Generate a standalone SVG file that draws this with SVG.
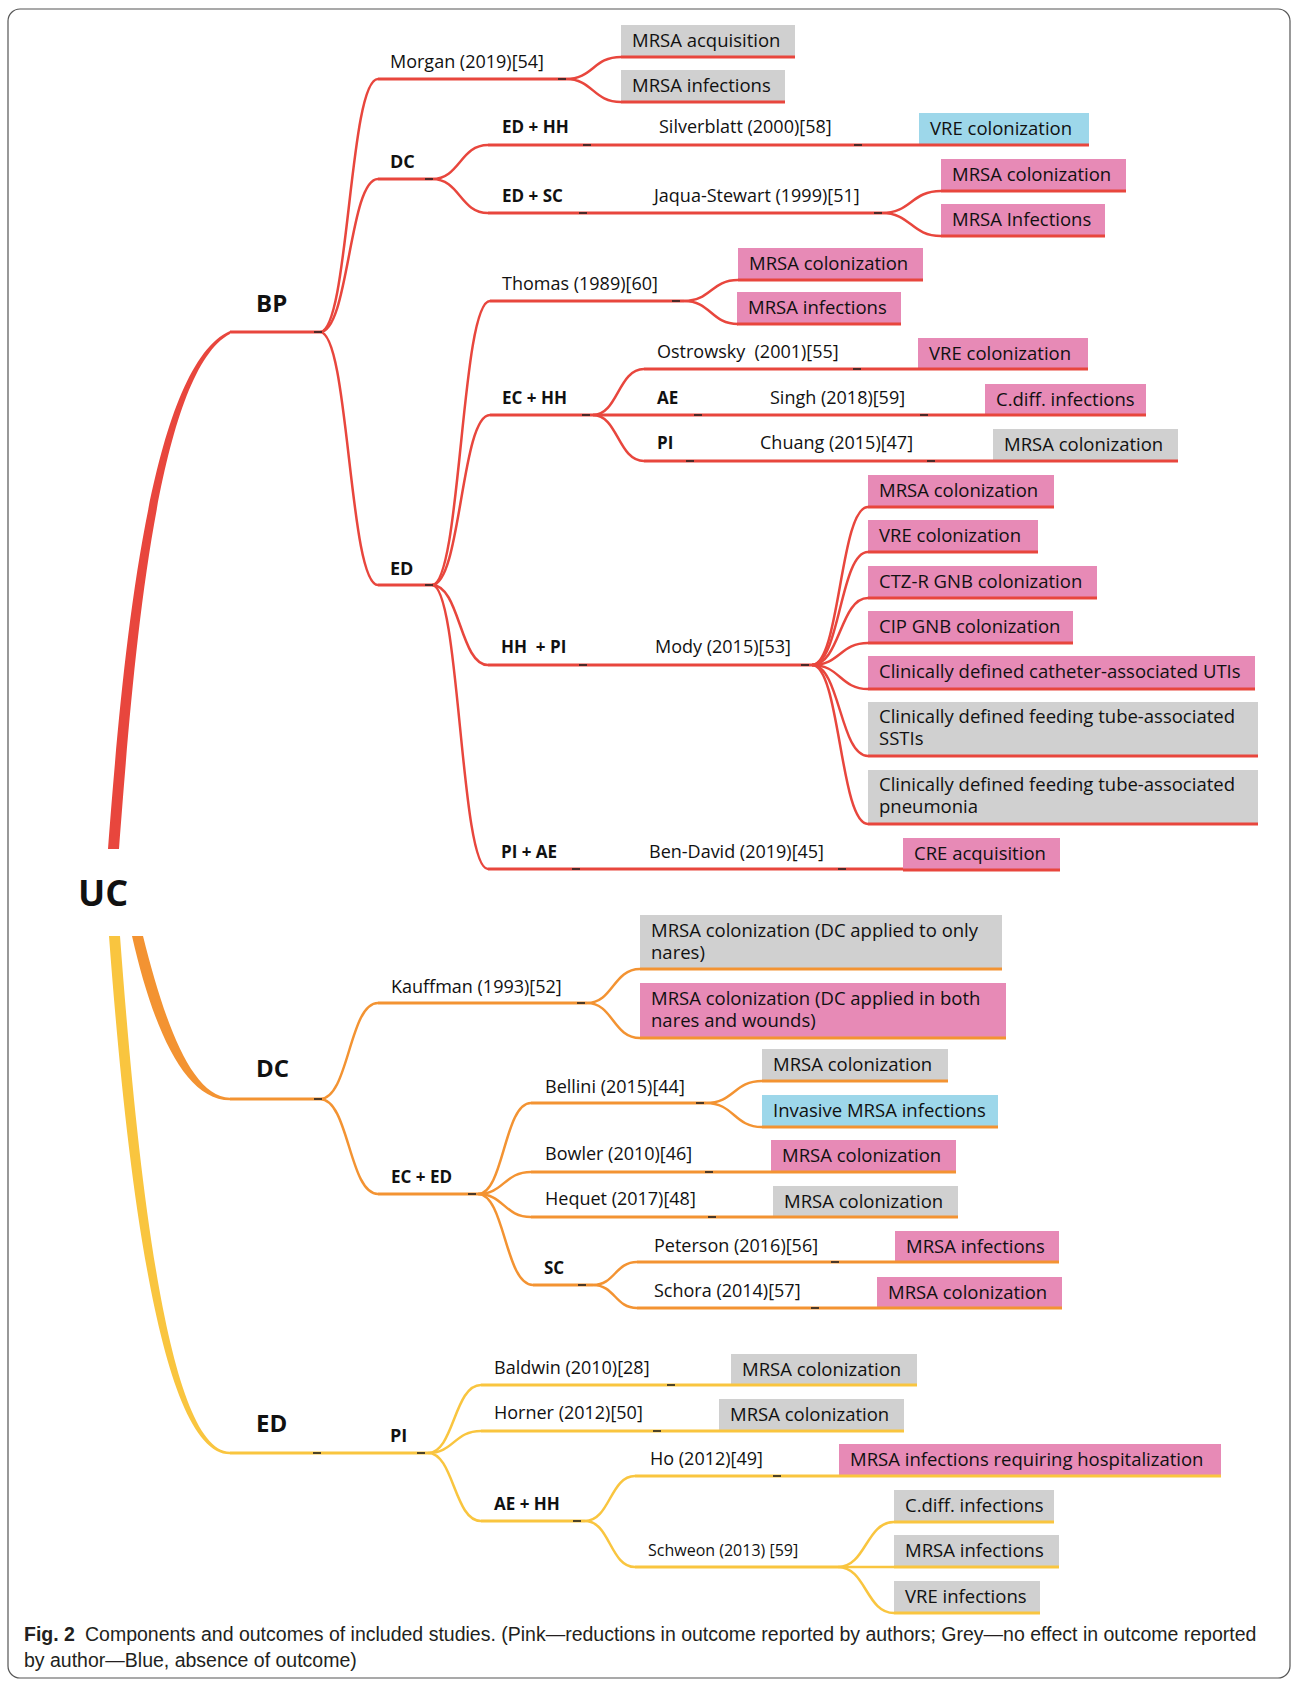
<svg xmlns="http://www.w3.org/2000/svg" width="1292" height="1681" viewBox="0 0 1292 1681">
<style>
text{font-family:"Open Sans","Noto Sans",sans-serif;fill:#111}
.t{font-size:18px}
.bt{font-size:18.5px}
.b{font-size:17px;font-weight:bold}
.h{font-size:24px;font-weight:bold}
.s{font-size:16px}
.cr{fill:none;stroke:#E8463D;stroke-width:2.5}
.co{fill:none;stroke:#F39332;stroke-width:2.5}
.cy{fill:none;stroke:#F9C53F;stroke-width:2.5}
.ur{stroke:#E8463D;stroke-width:3}
.uo{stroke:#F39332;stroke-width:3}
.uy{stroke:#F9C53F;stroke-width:3}
.pk{fill:#E78AB6}
.gr{fill:#D0D0D0}
.bl{fill:#9DD7EA}
.tk{stroke:#222;stroke-width:1.6}
.cap{font-family:"Liberation Sans","Open Sans",sans-serif;font-size:19.5px;fill:#231F20}
</style>
<rect x="8" y="9" width="1282" height="1669" rx="12" fill="#fff" stroke="#555" stroke-width="1.2"/>

<g id="connectors">
<path fill="#E8463D" d="M108 849 C121 680 146 368 230 331 L230 334 C154 374 132 680 119 849 Z"/>
<path fill="#F39332" d="M132 936 C152 1024 183 1100.3 230 1100.3 L230 1097.8 C190 1097 163 1016 143 936 Z"/>
<path fill="#F9C53F" d="M109 936 C125 1150 157 1454.3 230 1454.3 L230 1451.8 C165 1451 136 1150 120 936 Z"/>
<path class="cr" d="M320 332 C349 332 349 79 378 79"/>
<path class="cr" d="M320 332 C349 332 349 179 378 179"/>
<path class="cr" d="M320 332 C349 332 349 585 378 585"/>
<path class="cr" d="M432 179 C460 179 460 145 488 145"/>
<path class="cr" d="M432 179 C460 179 460 213 488 213"/>
<path class="cr" d="M432 585 C461 585 461 301 490 301"/>
<path class="cr" d="M432 585 C461 585 461 415 490 415"/>
<path class="cr" d="M432 585 C460 585 460 665 488 665"/>
<path class="cr" d="M432 585 C460 585 460 869 488 869"/>
<path class="cr" d="M566 79 C593 79 593 57 621 57"/>
<path class="cr" d="M566 79 C593 79 593 102 621 102"/>
<path class="cr" d="M882 213 C911 213 911 191 941 191"/>
<path class="cr" d="M882 213 C911 213 911 236 941 236"/>
<path class="cr" d="M684 301 C711 301 711 280 738 280"/>
<path class="cr" d="M684 301 C711 301 711 324 738 324"/>
<path class="cr" d="M593 415 C618 415 618 369 644 369"/>
<path class="cr" d="M593 415 C618 415 618 461 644 461"/>
<path class="cr" d="M812 665 C840 665 840 507 868 507"/>
<path class="cr" d="M812 665 C840 665 840 552 868 552"/>
<path class="cr" d="M812 665 C840 665 840 598 868 598"/>
<path class="cr" d="M812 665 C840 665 840 643 868 643"/>
<path class="cr" d="M812 665 C840 665 840 689 868 689"/>
<path class="cr" d="M812 665 C840 665 840 756 868 756"/>
<path class="cr" d="M812 665 C840 665 840 824 868 824"/>
<path class="co" d="M320 1099 C349 1099 349 1003 378 1003"/>
<path class="co" d="M320 1099 C349 1099 349 1194 378 1194"/>
<path class="co" d="M587 1003 C613 1003 613 969 640 969"/>
<path class="co" d="M587 1003 C613 1003 613 1038 640 1038"/>
<path class="co" d="M478 1194 C504 1194 504 1103 531 1103"/>
<path class="co" d="M478 1194 C504 1194 504 1172 531 1172"/>
<path class="co" d="M478 1194 C504 1194 504 1217 531 1217"/>
<path class="co" d="M478 1194 C505 1194 505 1285 533 1285"/>
<path class="co" d="M706 1103 C734 1103 734 1081 762 1081"/>
<path class="co" d="M706 1103 C734 1103 734 1127 762 1127"/>
<path class="co" d="M593 1285 C615 1285 615 1262 637 1262"/>
<path class="co" d="M593 1285 C615 1285 615 1308 637 1308"/>
<path class="cy" d="M428 1453 C454 1453 454 1385 481 1385"/>
<path class="cy" d="M428 1453 C454 1453 454 1431 481 1431"/>
<path class="cy" d="M428 1453 C454 1453 454 1521 481 1521"/>
<path class="cy" d="M585 1521 C610 1521 610 1476 635 1476"/>
<path class="cy" d="M585 1521 C610 1521 610 1567 635 1567"/>
<path class="cy" d="M838 1567 C866 1567 866 1522 894 1522"/>
<path class="cy" d="M838 1567 L894 1567"/>
<path class="cy" d="M838 1567 C866 1567 866 1613 894 1613"/>
</g>

<g id="uc"><text class="h" x="78" y="906" style="font-size:36px">UC</text></g>

<!-- RED: BP -->
<g id="bp"><line class="ur" x1="230" y1="332" x2="320" y2="332"/><text class="h" x="256" y="312">BP</text><line class="tk" x1="314" y1="332" x2="322" y2="332"/></g>
<g id="morgan"><line class="ur" x1="378" y1="79" x2="566" y2="79"/><text class="t" x="390" y="68">Morgan (2019)[54]</text><line class="tk" x1="558" y1="79" x2="566" y2="79"/></g>
<g id="o-morgan-1"><rect class="gr" x="621" y="25" width="174" height="32"/><line class="ur" x1="621" y1="57" x2="795" y2="57"/><text class="bt" x="632" y="47">MRSA acquisition</text></g>
<g id="o-morgan-2"><rect class="gr" x="621" y="70" width="164" height="32"/><line class="ur" x1="621" y1="102" x2="785" y2="102"/><text class="bt" x="632" y="92">MRSA infections</text></g>
<g id="dc-red"><line class="ur" x1="378" y1="179" x2="432" y2="179"/><text class="b" x="390" y="168" style="font-size:18px">DC</text><line class="tk" x1="425" y1="179" x2="433" y2="179"/></g>
<g id="ed-hh"><line class="ur" x1="488" y1="145" x2="919" y2="145"/><text class="b" x="502" y="133">ED + HH</text><text class="t" x="659" y="133">Silverblatt (2000)[58]</text><line class="tk" x1="583" y1="145" x2="591" y2="145"/><line class="tk" x1="854" y1="145" x2="862" y2="145"/></g>
<g id="o-silverblatt"><rect class="bl" x="919" y="113" width="170" height="32"/><line class="ur" x1="919" y1="145" x2="1089" y2="145"/><text class="bt" x="930" y="135">VRE colonization</text></g>
<g id="ed-sc"><line class="ur" x1="488" y1="213" x2="882" y2="213"/><text class="b" x="502" y="202">ED + SC</text><text class="t" x="654" y="202">Jaqua-Stewart (1999)[51]</text><line class="tk" x1="579" y1="213" x2="587" y2="213"/><line class="tk" x1="874" y1="213" x2="882" y2="213"/></g>
<g id="o-jaqua-1"><rect class="pk" x="941" y="159" width="185" height="32"/><line class="ur" x1="941" y1="191" x2="1126" y2="191"/><text class="bt" x="952" y="181">MRSA colonization</text></g>
<g id="o-jaqua-2"><rect class="pk" x="941" y="204" width="164" height="32"/><line class="ur" x1="941" y1="236" x2="1105" y2="236"/><text class="bt" x="952" y="226">MRSA Infections</text></g>
<g id="ed-red"><line class="ur" x1="378" y1="585" x2="432" y2="585"/><text class="b" x="390" y="575" style="font-size:18px">ED</text><line class="tk" x1="425" y1="585" x2="433" y2="585"/></g>
<g id="thomas"><line class="ur" x1="490" y1="301" x2="684" y2="301"/><text class="t" x="502" y="290">Thomas (1989)[60]</text><line class="tk" x1="672" y1="301" x2="680" y2="301"/></g>
<g id="o-thomas-1"><rect class="pk" x="738" y="248" width="185" height="32"/><line class="ur" x1="738" y1="280" x2="923" y2="280"/><text class="bt" x="749" y="270">MRSA colonization</text></g>
<g id="o-thomas-2"><rect class="pk" x="737" y="292" width="164" height="32"/><line class="ur" x1="737" y1="324" x2="901" y2="324"/><text class="bt" x="748" y="314">MRSA infections</text></g>
<g id="ec-hh"><line class="ur" x1="490" y1="415" x2="593" y2="415"/><text class="b" x="502" y="404">EC + HH</text><line class="tk" x1="582" y1="415" x2="590" y2="415"/></g>
<g id="ostrowsky"><line class="ur" x1="644" y1="369" x2="918" y2="369"/><text class="t" x="657" y="358" xml:space="preserve">Ostrowsky  (2001)[55]</text><line class="tk" x1="853" y1="369" x2="861" y2="369"/></g>
<g id="o-ostrowsky"><rect class="pk" x="918" y="338" width="170" height="31"/><line class="ur" x1="918" y1="369" x2="1088" y2="369"/><text class="bt" x="929" y="360">VRE colonization</text></g>
<g id="ae-singh"><line class="ur" x1="593" y1="415" x2="985" y2="415"/><text class="b" x="657" y="404">AE</text><text class="t" x="770" y="404">Singh (2018)[59]</text><line class="tk" x1="694" y1="415" x2="702" y2="415"/><line class="tk" x1="920" y1="415" x2="928" y2="415"/></g>
<g id="o-singh"><rect class="pk" x="985" y="384" width="161" height="31"/><line class="ur" x1="985" y1="415" x2="1146" y2="415"/><text class="bt" x="996" y="406">C.diff. infections</text></g>
<g id="pi-chuang"><line class="ur" x1="644" y1="461" x2="993" y2="461"/><text class="b" x="657" y="449">PI</text><text class="t" x="760" y="449">Chuang (2015)[47]</text><line class="tk" x1="686" y1="461" x2="694" y2="461"/><line class="tk" x1="927" y1="461" x2="935" y2="461"/></g>
<g id="o-chuang"><rect class="gr" x="993" y="429" width="185" height="32"/><line class="ur" x1="993" y1="461" x2="1178" y2="461"/><text class="bt" x="1004" y="451">MRSA colonization</text></g>
<g id="hh-pi"><line class="ur" x1="488" y1="665" x2="812" y2="665"/><text class="b" x="501" y="653" xml:space="preserve">HH  + PI</text><text class="t" x="655" y="653">Mody (2015)[53]</text><line class="tk" x1="579" y1="665" x2="587" y2="665"/><line class="tk" x1="801" y1="665" x2="809" y2="665"/></g>
<g id="o-mody-1"><rect class="pk" x="868" y="475" width="186" height="32"/><line class="ur" x1="868" y1="507" x2="1054" y2="507"/><text class="bt" x="879" y="497">MRSA colonization</text></g>
<g id="o-mody-2"><rect class="pk" x="868" y="520" width="170" height="32"/><line class="ur" x1="868" y1="552" x2="1038" y2="552"/><text class="bt" x="879" y="542">VRE colonization</text></g>
<g id="o-mody-3"><rect class="pk" x="868" y="566" width="229" height="32"/><line class="ur" x1="868" y1="598" x2="1097" y2="598"/><text class="bt" x="879" y="588">CTZ-R GNB colonization</text></g>
<g id="o-mody-4"><rect class="pk" x="868" y="611" width="205" height="32"/><line class="ur" x1="868" y1="643" x2="1073" y2="643"/><text class="bt" x="879" y="633">CIP GNB colonization</text></g>
<g id="o-mody-5"><rect class="pk" x="868" y="656" width="387" height="33"/><line class="ur" x1="868" y1="689" x2="1255" y2="689"/><text class="bt" x="879" y="678">Clinically defined catheter-associated UTIs</text></g>
<g id="o-mody-6"><rect class="gr" x="868" y="702" width="390" height="54"/><line class="ur" x1="868" y1="756" x2="1258" y2="756"/><text class="bt" x="879" y="723">Clinically defined feeding tube-associated</text><text class="bt" x="879" y="745">SSTIs</text></g>
<g id="o-mody-7"><rect class="gr" x="868" y="770" width="390" height="54"/><line class="ur" x1="868" y1="824" x2="1258" y2="824"/><text class="bt" x="879" y="791">Clinically defined feeding tube-associated</text><text class="bt" x="879" y="813">pneumonia</text></g>
<g id="pi-ae"><line class="ur" x1="488" y1="869" x2="903" y2="869"/><text class="b" x="501" y="858">PI + AE</text><text class="t" x="649" y="858">Ben-David (2019)[45]</text><line class="tk" x1="572" y1="869" x2="580" y2="869"/><line class="tk" x1="838" y1="869" x2="846" y2="869"/></g>
<g id="o-bendavid"><rect class="pk" x="903" y="838" width="157" height="32"/><line class="ur" x1="903" y1="870" x2="1060" y2="870"/><text class="bt" x="914" y="860">CRE acquisition</text></g>

<!-- ORANGE: DC -->
<g id="dc"><line class="uo" x1="230" y1="1099" x2="320" y2="1099"/><text class="h" x="256" y="1077">DC</text><line class="tk" x1="314" y1="1099" x2="322" y2="1099"/></g>
<g id="kauffman"><line class="uo" x1="378" y1="1003" x2="587" y2="1003"/><text class="t" x="391" y="993">Kauffman (1993)[52]</text><line class="tk" x1="577" y1="1003" x2="585" y2="1003"/></g>
<g id="o-kauffman-1"><rect class="gr" x="640" y="915" width="362" height="54"/><line class="uo" x1="640" y1="969" x2="1002" y2="969"/><text class="bt" x="651" y="937">MRSA colonization (DC applied to only</text><text class="bt" x="651" y="959">nares)</text></g>
<g id="o-kauffman-2"><rect class="pk" x="640" y="983" width="366" height="55"/><line class="uo" x1="640" y1="1038" x2="1006" y2="1038"/><text class="bt" x="651" y="1005">MRSA colonization (DC applied in both</text><text class="bt" x="651" y="1027">nares and wounds)</text></g>
<g id="ec-ed"><line class="uo" x1="378" y1="1194" x2="478" y2="1194"/><text class="b" x="391" y="1183">EC + ED</text><line class="tk" x1="468" y1="1194" x2="476" y2="1194"/></g>
<g id="bellini"><line class="uo" x1="531" y1="1103" x2="706" y2="1103"/><text class="t" x="545" y="1093">Bellini (2015)[44]</text><line class="tk" x1="696" y1="1103" x2="704" y2="1103"/></g>
<g id="o-bellini-1"><rect class="gr" x="762" y="1049" width="186" height="32"/><line class="uo" x1="762" y1="1081" x2="948" y2="1081"/><text class="bt" x="773" y="1071">MRSA colonization</text></g>
<g id="o-bellini-2"><rect class="bl" x="762" y="1095" width="236" height="32"/><line class="uo" x1="762" y1="1127" x2="998" y2="1127"/><text class="bt" x="773" y="1117">Invasive MRSA infections</text></g>
<g id="bowler"><line class="uo" x1="531" y1="1172" x2="771" y2="1172"/><text class="t" x="545" y="1160">Bowler (2010)[46]</text><line class="tk" x1="705" y1="1172" x2="713" y2="1172"/></g>
<g id="o-bowler"><rect class="pk" x="771" y="1140" width="185" height="32"/><line class="uo" x1="771" y1="1172" x2="956" y2="1172"/><text class="bt" x="782" y="1162">MRSA colonization</text></g>
<g id="hequet"><line class="uo" x1="531" y1="1217" x2="773" y2="1217"/><text class="t" x="545" y="1205">Hequet (2017)[48]</text><line class="tk" x1="708" y1="1217" x2="716" y2="1217"/></g>
<g id="o-hequet"><rect class="gr" x="773" y="1186" width="185" height="31"/><line class="uo" x1="773" y1="1217" x2="958" y2="1217"/><text class="bt" x="784" y="1208">MRSA colonization</text></g>
<g id="sc"><line class="uo" x1="533" y1="1285" x2="593" y2="1285"/><text class="b" x="544" y="1274">SC</text><line class="tk" x1="578" y1="1285" x2="586" y2="1285"/></g>
<g id="peterson"><line class="uo" x1="637" y1="1262" x2="895" y2="1262"/><text class="t" x="654" y="1252">Peterson (2016)[56]</text><line class="tk" x1="831" y1="1262" x2="839" y2="1262"/></g>
<g id="o-peterson"><rect class="pk" x="895" y="1231" width="164" height="31"/><line class="uo" x1="895" y1="1262" x2="1059" y2="1262"/><text class="bt" x="906" y="1253">MRSA infections</text></g>
<g id="schora"><line class="uo" x1="637" y1="1308" x2="877" y2="1308"/><text class="t" x="654" y="1297">Schora (2014)[57]</text><line class="tk" x1="811" y1="1308" x2="819" y2="1308"/></g>
<g id="o-schora"><rect class="pk" x="877" y="1277" width="185" height="31"/><line class="uo" x1="877" y1="1308" x2="1062" y2="1308"/><text class="bt" x="888" y="1299">MRSA colonization</text></g>

<!-- YELLOW: ED -->
<g id="ed"><line class="uy" x1="230" y1="1453" x2="378" y2="1453"/><text class="h" x="256" y="1432">ED</text><line class="tk" x1="313" y1="1453" x2="321" y2="1453"/></g>
<g id="pi"><line class="uy" x1="378" y1="1453" x2="428" y2="1453"/><text class="b" x="390" y="1442" style="font-size:18px">PI</text><line class="tk" x1="417" y1="1453" x2="425" y2="1453"/></g>
<g id="baldwin"><line class="uy" x1="481" y1="1385" x2="731" y2="1385"/><text class="t" x="494" y="1374">Baldwin (2010)[28]</text><line class="tk" x1="667" y1="1385" x2="675" y2="1385"/></g>
<g id="o-baldwin"><rect class="gr" x="731" y="1354" width="186" height="31"/><line class="uy" x1="731" y1="1385" x2="917" y2="1385"/><text class="bt" x="742" y="1376">MRSA colonization</text></g>
<g id="horner"><line class="uy" x1="481" y1="1431" x2="719" y2="1431"/><text class="t" x="494" y="1419">Horner (2012)[50]</text><line class="tk" x1="653" y1="1431" x2="661" y2="1431"/></g>
<g id="o-horner"><rect class="gr" x="719" y="1399" width="185" height="32"/><line class="uy" x1="719" y1="1431" x2="904" y2="1431"/><text class="bt" x="730" y="1421">MRSA colonization</text></g>
<g id="ae-hh"><line class="uy" x1="481" y1="1521" x2="585" y2="1521"/><text class="b" x="494" y="1510">AE + HH</text><line class="tk" x1="573" y1="1521" x2="581" y2="1521"/></g>
<g id="ho"><line class="uy" x1="635" y1="1476" x2="839" y2="1476"/><text class="t" x="650" y="1465">Ho (2012)[49]</text><line class="tk" x1="773" y1="1476" x2="781" y2="1476"/></g>
<g id="o-ho"><rect class="pk" x="839" y="1444" width="382" height="32"/><line class="uy" x1="839" y1="1476" x2="1221" y2="1476"/><text class="bt" x="850" y="1466">MRSA infections requiring hospitalization</text></g>
<g id="schweon"><line class="uy" x1="635" y1="1567" x2="838" y2="1567"/><text class="s" x="648" y="1556">Schweon (2013) [59]</text></g>
<g id="o-schweon-1"><rect class="gr" x="894" y="1490" width="160" height="32"/><line class="uy" x1="894" y1="1522" x2="1054" y2="1522"/><text class="bt" x="905" y="1512">C.diff. infections</text></g>
<g id="o-schweon-2"><rect class="gr" x="894" y="1535" width="165" height="32"/><line class="uy" x1="894" y1="1567" x2="1059" y2="1567"/><text class="bt" x="905" y="1557">MRSA infections</text></g>
<g id="o-schweon-3"><rect class="gr" x="894" y="1581" width="146" height="32"/><line class="uy" x1="894" y1="1613" x2="1040" y2="1613"/><text class="bt" x="905" y="1603">VRE infections</text></g>

<g id="caption">
<text class="cap" x="24" y="1641"><tspan font-weight="bold">Fig. 2</tspan><tspan x="85">Components and outcomes of included studies. (Pink—reductions in outcome reported by authors; Grey—no effect in outcome reported</tspan></text>
<text class="cap" x="24" y="1667">by author—Blue, absence of outcome)</text>
</g>
</svg>
